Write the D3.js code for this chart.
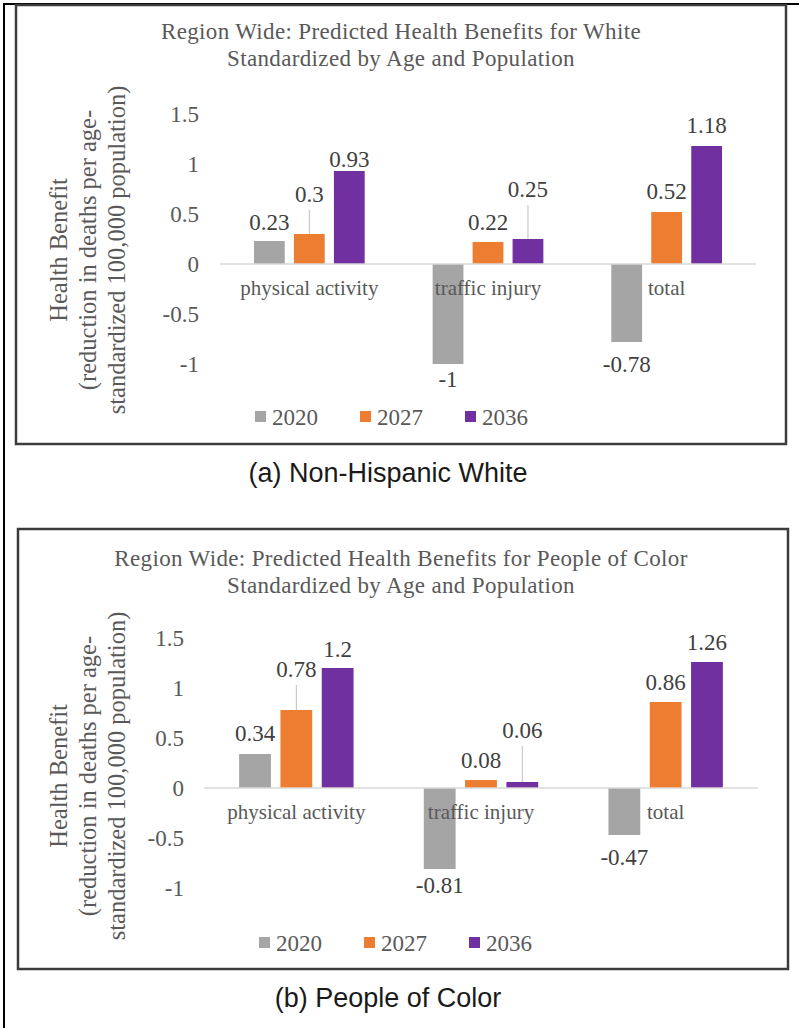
<!DOCTYPE html>
<html>
<head>
<meta charset="utf-8">
<script src="https://cdn.jsdelivr.net/npm/d3@7"></script>
<style>
  body { margin: 0; background: #fff; }
</style>
</head>
<body>
<div class="figure"></div>
<script>
const categories = ["physical activity", "traffic injury", "total"];
const years = ["2020", "2027", "2036"];
const yTicks = [-1, -0.5, 0, 0.5, 1, 1.5];

// Non-Hispanic White
const white2020 = [0.23, -1, -0.78];
const white2027 = [0.3, 0.22, 0.52];
const white2036 = [0.93, 0.25, 1.18];

// People of Color
const poc2020 = [0.34, -0.81, -0.47];
const poc2027 = [0.78, 0.08, 0.86];
const poc2036 = [1.2, 0.06, 1.26];

const colors = ["#a5a5a5", "#ed7d31", "#7030a0"];
const serif = "'Liberation Serif', 'Times New Roman', serif";
const sans = "'Liberation Sans', Arial, sans-serif";

const svg = d3
  .select(".figure")
  .append("svg")
  .attr("width", 799)
  .attr("height", 1028);

// outer page frame (left and top only)
svg.append("line").attr("x1", 4).attr("x2", 4).attr("y1", 3).attr("y2", 1028)
  .attr("stroke", "#000").attr("stroke-width", 2);
svg.append("line").attr("x1", 3).attr("x2", 799).attr("y1", 4).attr("y2", 4)
  .attr("stroke", "#000").attr("stroke-width", 2);

drawPanel({
  box: [16, 5, 770, 439],
  title: ["Region Wide: Predicted Health Benefits for White", "Standardized by Age and Population"],
  titleY: 39,
  series: [white2020, white2027, white2036],
  xRange: [220, 756],
  yRange: [364, 114],
  tickX: 199,
  axisTitleY: 250,
  gaps: [[11, 23, 30], [32, 12, 13], [4, 42, 13]],
  leaders: [[0, 0, 0], [1, 0, 0], [0, 1, 0]],
  legendY: 418,
  legendX: 255,
  caption: "(a) Non-Hispanic White",
  captionY: 482
});

drawPanel({
  box: [18, 529, 770, 440],
  title: ["Region Wide: Predicted Health Benefits for People of Color", "Standardized by Age and Population"],
  titleY: 566,
  series: [poc2020, poc2027, poc2036],
  xRange: [204, 758],
  yRange: [888, 638],
  tickX: 184,
  axisTitleY: 776,
  gaps: [[13, 24, 30], [33, 12, 12], [11, 44, 12]],
  leaders: [[0, 0, 0], [1, 0, 0], [0, 1, 0]],
  legendY: 944,
  legendX: 259,
  caption: "(b) People of Color",
  captionY: 1007
});

function drawPanel(cfg) {
  const g = svg.append("g");

  // chart border
  g.append("rect")
    .attr("x", cfg.box[0])
    .attr("y", cfg.box[1])
    .attr("width", cfg.box[2])
    .attr("height", cfg.box[3])
    .attr("fill", "none")
    .attr("stroke", "#3c3c3c")
    .attr("stroke-width", 2.5);

  // title
  g.selectAll(".title")
    .data(cfg.title)
    .enter()
    .append("text")
    .attr("x", 401)
    .attr("y", (d, i) => cfg.titleY + i * 27)
    .attr("text-anchor", "middle")
    .style("font-family", serif)
    .style("font-size", "23px")
    .style("letter-spacing", "0.35px")
    .style("fill", "#595959")
    .text(d => d);

  const y = d3.scaleLinear().domain([-1, 1.5]).range(cfg.yRange);
  const x0 = d3.scaleBand().domain(categories).range(cfg.xRange);
  const x1 = d3
    .scaleBand()
    .domain(years)
    .range([0, x0.bandwidth()])
    .paddingInner(0.23)
    .paddingOuter(0.85);

  // y axis labels, no line
  const axis = g
    .append("g")
    .attr("transform", `translate(${cfg.tickX},0)`)
    .call(d3.axisLeft(y).tickValues(yTicks).tickSize(0).tickPadding(0).tickFormat(d => String(d)));
  axis.select(".domain").remove();
  axis.attr("font-family", null).attr("font-size", null);
  axis.selectAll("text")
    .style("font-family", serif)
    .style("font-size", "23px")
    .style("fill", "#595959");

  // y axis title
  const axisTitle = ["Health Benefit", "(reduction in deaths per age-", "standardized 100,000 population)"];
  g.selectAll(".ytitle")
    .data(axisTitle)
    .enter()
    .append("text")
    .attr("text-anchor", "middle")
    .attr("transform", (d, i) => `translate(${67 + i * 29},${cfg.axisTitleY}) rotate(-90)`)
    .style("font-family", serif)
    .style("font-size", "24.5px")
    .style("fill", "#595959")
    .text(d => d);

  // bars
  const rows = [];
  cfg.series.forEach((vals, s) => {
    vals.forEach((v, c) => {
      rows.push({ year: years[s], cat: categories[c], value: v, s: s, c: c });
    });
  });

  g.selectAll(".bar")
    .data(rows)
    .enter()
    .append("rect")
    .attr("x", d => x0(d.cat) + x1(d.year))
    .attr("y", d => y(Math.max(0, d.value)))
    .attr("width", x1.bandwidth())
    .attr("height", d => Math.abs(y(d.value) - y(0)))
    .attr("fill", d => colors[d.s]);

  // zero line
  g.append("line")
    .attr("x1", cfg.xRange[0])
    .attr("x2", cfg.xRange[1])
    .attr("y1", y(0))
    .attr("y2", y(0))
    .attr("stroke", "#d9d9d9")
    .attr("stroke-width", 1.5);

  // category labels
  g.selectAll(".cat")
    .data(categories)
    .enter()
    .append("text")
    .attr("x", d => x0(d) + x0.bandwidth() / 2)
    .attr("y", y(0) + 31)
    .attr("text-anchor", "middle")
    .style("font-family", serif)
    .style("font-size", "21px")
    .style("fill", "#595959")
    .text(d => d);

  // leader lines for moved labels
  g.selectAll(".leader")
    .data(rows.filter(d => cfg.leaders[d.s][d.c]))
    .enter()
    .append("line")
    .attr("x1", d => x0(d.cat) + x1(d.year) + x1.bandwidth() / 2)
    .attr("x2", d => x0(d.cat) + x1(d.year) + x1.bandwidth() / 2)
    .attr("y1", d => y(d.value) - cfg.gaps[d.s][d.c] + 8)
    .attr("y2", d => y(d.value))
    .attr("stroke", "#bfbfbf")
    .attr("stroke-width", 1);

  // data labels
  g.selectAll(".val")
    .data(rows)
    .enter()
    .append("text")
    .attr("x", d => x0(d.cat) + x1(d.year) + x1.bandwidth() / 2)
    .attr("y", d => d.value >= 0 ? y(d.value) - cfg.gaps[d.s][d.c] : y(d.value) + cfg.gaps[d.s][d.c])
    .attr("text-anchor", "middle")
    .style("font-family", serif)
    .style("font-size", "23px")
    .style("fill", "#404040")
    .text(d => String(d.value));

  // legend
  const legend = g
    .selectAll(".legend")
    .data(years)
    .enter()
    .append("g")
    .attr("transform", (d, i) => `translate(${cfg.legendX + i * 105},${cfg.legendY})`);

  legend.append("rect")
    .attr("x", 0)
    .attr("y", -7)
    .attr("width", 11)
    .attr("height", 11)
    .attr("fill", (d, i) => colors[i]);

  legend.append("text")
    .attr("x", 17)
    .attr("y", 7)
    .style("font-family", serif)
    .style("font-size", "23px")
    .style("fill", "#595959")
    .text(d => d);

  // caption under the chart box
  svg.append("text")
    .attr("x", 388)
    .attr("y", cfg.captionY)
    .attr("text-anchor", "middle")
    .style("font-family", sans)
    .style("font-size", "27px")
    .style("fill", "#1a1a1a")
    .text(cfg.caption);
}
</script>
</body>
</html>
